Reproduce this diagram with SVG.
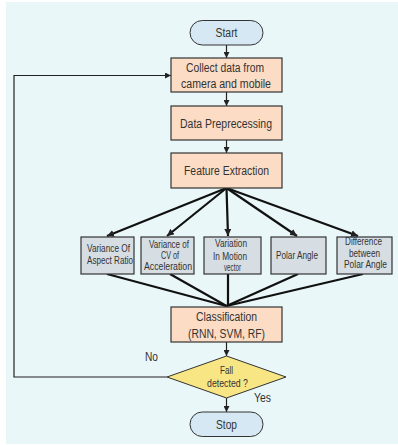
<svg xmlns="http://www.w3.org/2000/svg" width="398" height="445" viewBox="0 0 398 445">
<defs>
<marker id="ah" viewBox="0 0 10 10" refX="10" refY="5" markerWidth="6" markerHeight="6" orient="auto" markerUnits="userSpaceOnUse"><path d="M0,0 L10,5 L0,10 z" fill="#222"/></marker>
<marker id="ahb" viewBox="0 0 10 10" refX="10" refY="5" markerWidth="7" markerHeight="7" orient="auto" markerUnits="userSpaceOnUse"><path d="M0,0 L10,5 L0,10 z" fill="#222"/></marker>
</defs>
<style>
text{font-family:"Liberation Sans",Arial,sans-serif;fill:#333;text-anchor:middle}
.t{font-size:12.5px}
.s{font-size:10.5px}
.term{fill:#d5e8f3;stroke:#333;stroke-width:1}
.proc{fill:#fcdcc4;stroke:#333;stroke-width:1.2}
.feat{fill:#d6dde3;stroke:#333;stroke-width:1.2}
.dec{fill:#f8e584;stroke:#333;stroke-width:1}
.c{fill:none;stroke:#222;stroke-width:1.2}
.b{fill:none;stroke:#111;stroke-width:2.2}
</style>
<rect x="0" y="0" width="398" height="445" fill="#ffffff"/>
<rect x="6" y="2" width="392" height="442" fill="#eaf7f8"/>
<g id="connectors">
<line class="c" x1="226.5" y1="45" x2="226.5" y2="58" marker-end="url(#ah)"/>
<line class="c" x1="226.5" y1="92" x2="226.5" y2="106" marker-end="url(#ah)"/>
<line class="c" x1="226.5" y1="140" x2="226.5" y2="153" marker-end="url(#ah)"/>
<line class="b" x1="226.5" y1="188" x2="107" y2="236" marker-end="url(#ahb)"/>
<line class="b" x1="226.5" y1="188" x2="167" y2="236" marker-end="url(#ahb)"/>
<line class="b" x1="226.5" y1="188" x2="228" y2="236" marker-end="url(#ahb)"/>
<line class="b" x1="226.5" y1="188" x2="297" y2="236" marker-end="url(#ahb)"/>
<line class="b" x1="226.5" y1="188" x2="358" y2="236" marker-end="url(#ahb)"/>
<line class="b" x1="107" y1="274" x2="226.5" y2="306"/>
<line class="b" x1="170" y1="274" x2="226.5" y2="306"/>
<line class="b" x1="228" y1="274" x2="228" y2="306"/>
<line class="b" x1="298" y1="274" x2="226.5" y2="306"/>
<line class="b" x1="363" y1="274" x2="226.5" y2="306"/>
<line class="c" x1="226.5" y1="342" x2="226.5" y2="356" marker-end="url(#ah)"/>
<line class="c" x1="226.5" y1="398" x2="226.5" y2="412" marker-end="url(#ah)"/>
<polyline class="c" points="167,377 14,377 14,75.5 171,75.5" marker-end="url(#ah)"/>
<text class="t" x="151.5" y="360.5" textLength="13" lengthAdjust="spacingAndGlyphs">No</text>
<text class="t" x="262.5" y="401.5" textLength="17" lengthAdjust="spacingAndGlyphs">Yes</text>
</g>
<g id="start"><rect class="term" x="190" y="20.5" width="73" height="24.5" rx="12.25"/><text class="t" x="226.5" y="37" textLength="22" lengthAdjust="spacingAndGlyphs">Start</text></g>
<g id="collect"><rect class="proc" x="171" y="58" width="111" height="34"/><text class="t" x="225" y="71.5" textLength="78" lengthAdjust="spacingAndGlyphs">Collect data from</text><text class="t" x="226" y="87.5" textLength="90" lengthAdjust="spacingAndGlyphs">camera and mobile</text></g>
<g id="preprocess"><rect class="proc" x="171" y="106" width="111" height="34"/><text class="t" x="226" y="127.5" textLength="92" lengthAdjust="spacingAndGlyphs">Data Preprecessing</text></g>
<g id="feature"><rect class="proc" x="171" y="153" width="111" height="35"/><text class="t" x="226.5" y="174.5" textLength="85" lengthAdjust="spacingAndGlyphs">Feature Extraction</text></g>
<g id="f1"><rect class="feat" x="81" y="237" width="53" height="37"/><text class="s" x="108.5" y="252" textLength="43" lengthAdjust="spacingAndGlyphs">Variance Of</text><text class="s" x="110" y="263.5" textLength="46" lengthAdjust="spacingAndGlyphs">Aspect Ratio</text></g>
<g id="f2"><rect class="feat" x="141" y="237" width="53" height="37"/><text class="s" x="169" y="247.5" textLength="40" lengthAdjust="spacingAndGlyphs">Variance of</text><text class="s" x="170" y="258.5" textLength="18" lengthAdjust="spacingAndGlyphs">CV of</text><text class="s" x="168" y="270" textLength="48" lengthAdjust="spacingAndGlyphs">Acceleration</text></g>
<g id="f3"><rect class="feat" x="204" y="237" width="57" height="37"/><text class="s" x="231" y="246.5" textLength="32" lengthAdjust="spacingAndGlyphs">Variation</text><text class="s" x="230" y="259.5" textLength="34" lengthAdjust="spacingAndGlyphs">In Motion</text><text class="s" x="232.5" y="270.5" textLength="17" lengthAdjust="spacingAndGlyphs">vector</text></g>
<g id="f4"><rect class="feat" x="271" y="237" width="55" height="37"/><text class="s" x="297" y="259" textLength="42" lengthAdjust="spacingAndGlyphs">Polar Angle</text></g>
<g id="f5"><rect class="feat" x="337" y="237" width="55" height="37"/><text class="s" x="363.5" y="244.5" textLength="37" lengthAdjust="spacingAndGlyphs">Difference</text><text class="s" x="364.5" y="256.5" textLength="31" lengthAdjust="spacingAndGlyphs">between</text><text class="s" x="365.5" y="267.5" textLength="43" lengthAdjust="spacingAndGlyphs">Polar Angle</text></g>
<g id="classify"><rect class="proc" x="171" y="307" width="111" height="35"/><text class="t" x="226.5" y="320.5" textLength="61" lengthAdjust="spacingAndGlyphs">Classification</text><text class="t" x="226.5" y="337.5" textLength="77" lengthAdjust="spacingAndGlyphs">(RNN, SVM, RF)</text></g>
<g id="decision"><polygon class="dec" points="226.5,356 286,377 226.5,398 167,377"/><text class="s" x="226.5" y="374" textLength="13" lengthAdjust="spacingAndGlyphs">Fall</text><text class="s" x="227.5" y="386.5" textLength="41" lengthAdjust="spacingAndGlyphs">detected ?</text></g>
<g id="stop"><rect class="term" x="190" y="412" width="73" height="24.5" rx="12.25"/><text class="t" x="226.5" y="428.5" textLength="21" lengthAdjust="spacingAndGlyphs">Stop</text></g>
</svg>
